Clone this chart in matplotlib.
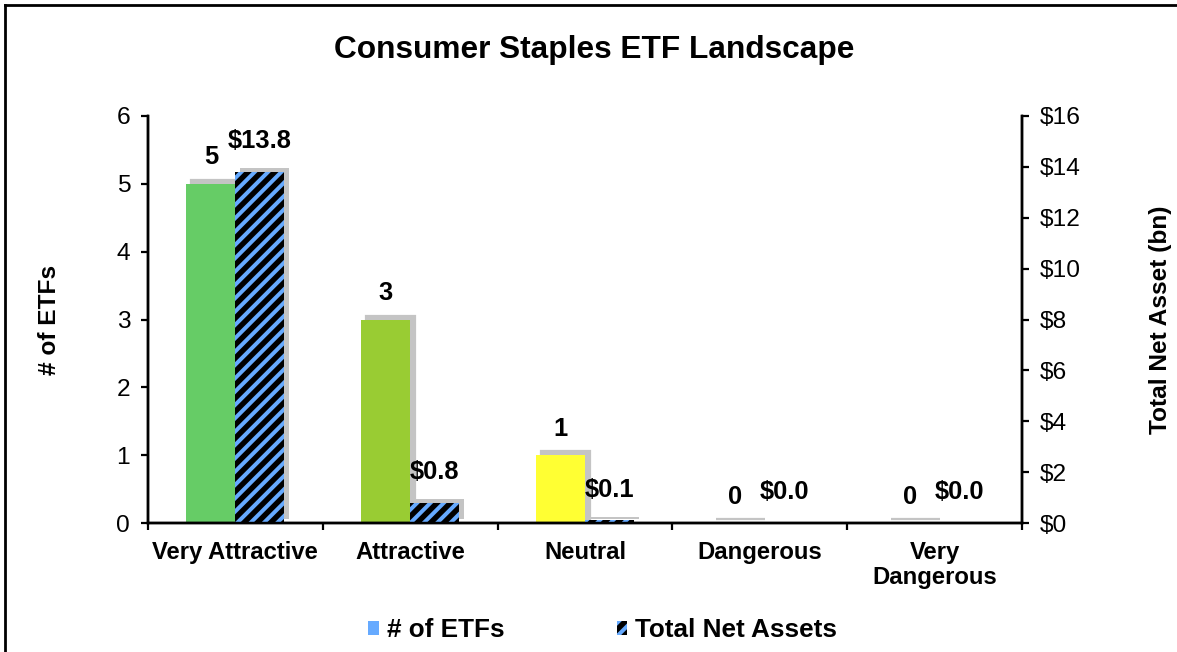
import matplotlib
matplotlib.use("Agg")
import matplotlib.pyplot as plt
import matplotlib.patheffects as pe
from matplotlib.patches import Patch
from matplotlib.lines import Line2D
from matplotlib.ticker import FuncFormatter, FixedLocator
import numpy as np

# chart data
categories = ["Very Attractive", "Attractive", "Neutral", "Dangerous", "Very\nDangerous"]
etf_counts = [5, 3, 1, 0, 0]
net_assets = [13.8, 0.8, 0.1, 0.0, 0.0]
bar_colors = ["#66CC66", "#99CC33", "#FFFF33", "#66CC66", "#66CC66"]
series_names = ["# of ETFs", "Total Net Assets"]

plt.rcParams["font.family"] = ["Liberation Sans", "DejaVu Sans"]
plt.rcParams["hatch.linewidth"] = 3.6

DPI = 80
fig = plt.figure(figsize=(1177 / DPI, 652 / DPI), dpi=DPI)
ax1 = fig.add_axes([148 / 1177, 1 - 523 / 652, 874 / 1177, 407 / 652])
ax2 = ax1.twinx()

x = np.arange(len(categories))
w = 0.28
shadow = dict(offset=(4.5, 3.5), shadow_rgbFace="#C4C4C4", alpha=1.0)

# left series: # of ETFs
bars1 = ax1.bar(x - w / 2, etf_counts, width=w, color=bar_colors, linewidth=0)
for b in bars1:
    b.set_path_effects([pe.SimplePatchShadow(**shadow, linewidth=2, foreground="#C4C4C4"),
                        pe.Normal()])

# right series: total net assets (hatched)
bars2 = ax2.bar(x + w / 2, net_assets, width=w, color="black",
                edgecolor="#66AAFF", linewidth=0, hatch="//")
for b in bars2:
    b.set_path_effects([pe.SimplePatchShadow(**shadow, hatch=None), pe.Normal()])

# data labels
for xi, v in zip(x, etf_counts):
    ax1.annotate(f"{v}", (xi - w / 2, v), xytext=(0, 13), textcoords="offset points",
                 ha="center", va="bottom", fontsize=23, fontweight="bold")
for xi, v in zip(x, net_assets):
    ax2.annotate(f"${v:.1f}", (xi + w / 2, v), xytext=(0, 17), textcoords="offset points",
                 ha="center", va="bottom", fontsize=23, fontweight="bold")

# axes styling
ax1.set_xlim(-0.5, len(categories) - 0.5)
ax1.set_ylim(0, 6)
ax2.set_ylim(0, 16)
ax1.set_yticks(range(0, 7))
ax2.set_yticks(range(0, 17, 2))
ax2.yaxis.set_major_formatter(FuncFormatter(lambda v, p: f"${v:.0f}"))

ax1.set_xticks(x)
ax1.set_xticklabels(categories, fontsize=21.5, fontweight="bold", linespacing=1.1)
ax1.xaxis.set_minor_locator(FixedLocator(np.arange(-0.5, len(categories), 1.0)))
ax1.tick_params(axis="x", which="major", length=0, pad=16)
ax1.tick_params(axis="x", which="minor", length=6, width=2, direction="out")
ax1.tick_params(axis="y", labelsize=22, length=6, width=2, pad=10)
ax2.tick_params(axis="y", labelsize=22, length=6, width=2, pad=10)

for a in (ax1, ax2):
    a.spines["top"].set_visible(False)
    for s in ("left", "right", "bottom"):
        a.spines[s].set_linewidth(2.2)

ax1.set_ylabel("# of ETFs", fontsize=22, fontweight="bold")
ax1.yaxis.set_label_coords(-0.1, 0.5)
ax2.set_ylabel("Total Net Asset (bn)", fontsize=22, fontweight="bold")
ax2.yaxis.set_label_coords(1.145, 0.5)

fig.text(0.505, 1 - 50 / 652, "Consumer Staples ETF Landscape",
         ha="center", va="center", fontsize=28.5, fontweight="bold")

# legend
handles = [Patch(facecolor="#66AAFF", linewidth=0),
           Patch(facecolor="black", edgecolor="#66AAFF", linewidth=0, hatch="//")]
fig.legend(handles, series_names, loc="center", bbox_to_anchor=(0.512, 1 - 630 / 652),
           ncol=2, frameon=False, prop={"size": 23.5, "weight": "bold"},
           handlelength=0.4, handleheight=0.45, handletextpad=0.3, columnspacing=4.3)

# outer frame (left and top edges)
fig.add_artist(Line2D([5 / 1177, 5 / 1177], [0, 1 - 5 / 652], color="black", lw=2.5))
fig.add_artist(Line2D([5 / 1177, 1], [1 - 5 / 652, 1 - 5 / 652], color="black", lw=2.5))

fig.savefig("out.png", dpi=DPI)
